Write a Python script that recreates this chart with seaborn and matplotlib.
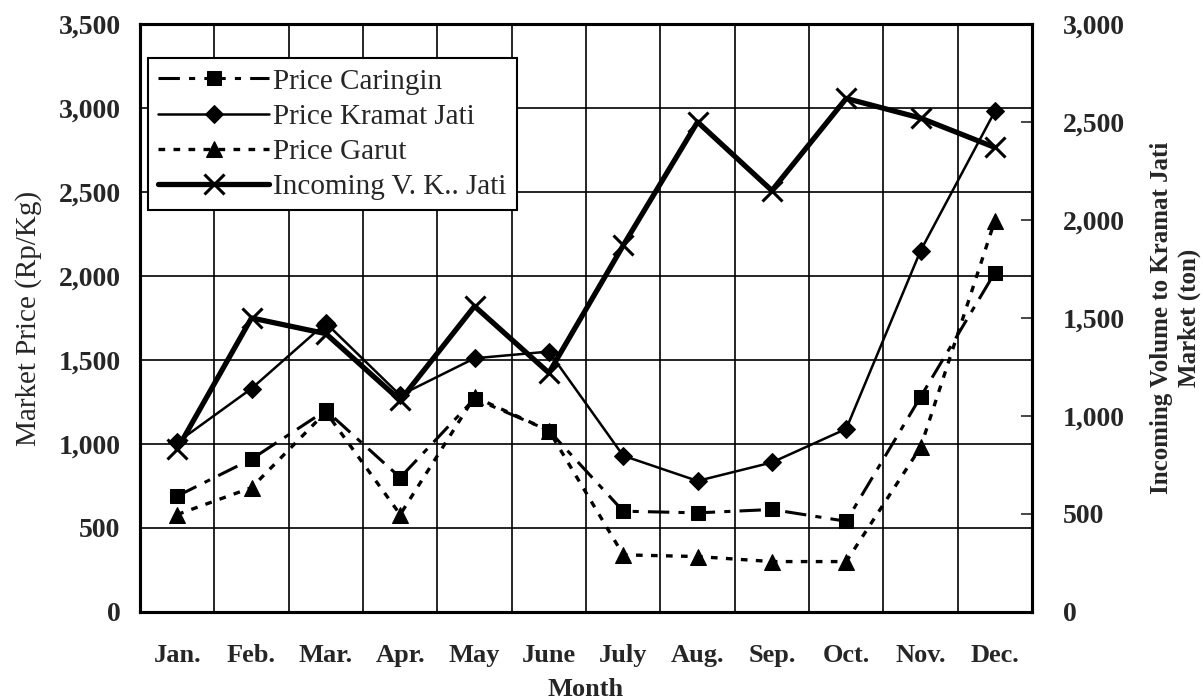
import numpy as np
import pandas as pd

import matplotlib
matplotlib.use("Agg")
import matplotlib.pyplot as plt
import seaborn as sns
from matplotlib.ticker import FuncFormatter, MultipleLocator

months = ["Jan.", "Feb.", "Mar.", "Apr.", "May", "June", "July", "Aug.", "Sep.", "Oct.", "Nov.", "Dec."]

# harga (Rp/Kg)
price_caringin = [690, 910, 1200, 800, 1270, 1080, 600, 590, 610, 540, 1280, 2020]
price_kramat = [1010, 1330, 1720, 1290, 1510, 1550, 930, 780, 890, 1090, 2150, 2980]
price_garut = [580, 740, 1190, 580, 1280, 1080, 340, 330, 300, 300, 980, 2330]
# volume masuk ke pasar Kramat Jati (ton)
incoming = [830, 1500, 1420, 1080, 1560, 1220, 1870, 2500, 2150, 2620, 2520, 2370]

df = pd.DataFrame({"month": months, "caringin": price_caringin, "kramat": price_kramat,
                   "garut": price_garut, "incoming": incoming})

sns.set_style("white")
plt.rcParams["font.family"] = ["Liberation Serif", "DejaVu Serif"]

fig = plt.figure(figsize=(12.03, 6.99), dpi=100)
ax = fig.add_axes([0.1164, 0.1245, 0.7415, 0.8412])
ax2 = ax.twinx()

sns.lineplot(data=df, x="month", y="caringin", ax=ax, sort=False, color="black", lw=2.2,
             linestyle=(0, (7, 3, 2, 3)), marker="s", markersize=10, markeredgecolor="black",
             label="Price Caringin", legend=False)
sns.lineplot(data=df, x="month", y="kramat", ax=ax, sort=False, color="black", lw=1.8,
             marker="D", markersize=9, markeredgecolor="black",
             label="Price Kramat Jati", legend=False)
sns.lineplot(data=df, x="month", y="garut", ax=ax, sort=False, color="black", lw=2.4,
             linestyle=(0, (2, 2.5)), marker="^", markersize=11, markeredgecolor="black",
             label="Price Garut", legend=False)
sns.lineplot(data=df, x="month", y="incoming", ax=ax2, sort=False, color="black", lw=3.8,
             marker="x", markersize=14, markeredgewidth=2.2, markeredgecolor="black",
             label="Incoming V. K.. Jati", legend=False)

ax.set_xlim(-0.5, len(months) - 0.5)
ax.set_ylim(0, 3500)
ax2.set_ylim(0, 3000)

ax.yaxis.set_major_locator(MultipleLocator(500))
ax2.yaxis.set_major_locator(MultipleLocator(500))
fmt = FuncFormatter(lambda v, p: f"{int(v):,}")
ax.yaxis.set_major_formatter(fmt)
ax2.yaxis.set_major_formatter(fmt)

ax.set_xticks(np.arange(len(months)))
ax.set_xticklabels(months)
ax.set_xticks(np.arange(len(months) + 1) - 0.5, minor=True)

ax.grid(False)
ax2.grid(False)
ax.grid(True, which="minor", axis="x", color="black", lw=1.2)
ax.grid(True, which="major", axis="y", color="black", lw=1.2)

for a in (ax, ax2):
    for s in a.spines.values():
        s.set_color("black")
        s.set_linewidth(2.2)

ax.tick_params(axis="x", which="both", length=0, pad=23, labelsize=19)
ax.tick_params(axis="y", length=0, pad=14, labelsize=20)
ax2.tick_params(axis="y", direction="in", length=8, width=1.2, pad=22, labelsize=20)
for lab in ax.get_xticklabels() + ax.get_yticklabels() + ax2.get_yticklabels():
    lab.set_fontweight("bold")

ax.set_xlabel("Month", fontsize=19, fontweight="bold", labelpad=8)
ax.set_ylabel("Market Price (Rp/Kg)", fontsize=21, labelpad=12)
ax2.set_ylabel("Incoming Volume to Kramat Jati\nMarket (ton)", fontsize=18, fontweight="bold",
               labelpad=18, linespacing=1.25)

handles = [h for h in ax.get_lines() if not h.get_label().startswith("_")] + \
          [h for h in ax2.get_lines() if not h.get_label().startswith("_")]
leg = ax2.legend(handles=handles, labels=[h.get_label() for h in handles], loc="upper left",
                 bbox_to_anchor=(0.009, 0.942), borderaxespad=0, fancybox=False, framealpha=1,
                 edgecolor="black", fontsize=21, handlelength=3.8, handletextpad=0.15,
                 labelspacing=0.3, borderpad=0.35)
leg.get_frame().set_linewidth(1.5)

fig.savefig("out.png", dpi=100)
